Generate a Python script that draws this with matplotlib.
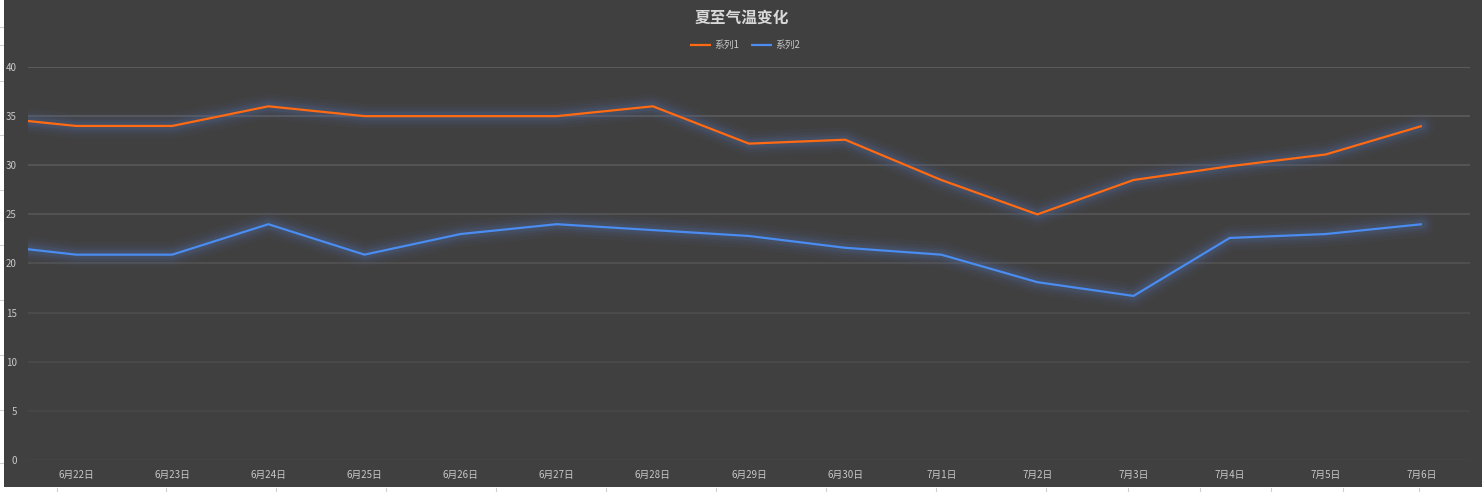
import numpy as np
import matplotlib.pyplot as plt
from matplotlib.patches import Rectangle

plt.rcParams['font.family'] = ['Noto Sans CJK SC', 'DejaVu Sans']

# data (first day is only partly visible at the left edge)
dates = ['6月21日', '6月22日', '6月23日', '6月24日', '6月25日', '6月26日', '6月27日',
         '6月28日', '6月29日', '6月30日', '7月1日', '7月2日', '7月3日',
         '7月4日', '7月5日', '7月6日']
series1 = [35, 34, 34, 36, 35, 35, 35, 36, 32.2, 32.6, 28.5, 25, 28.5, 29.9, 31.1, 34]
series2 = [22, 20.9, 20.9, 24, 20.9, 23, 24, 23.4, 22.8, 21.6, 20.9, 18.1, 16.7, 22.6, 23, 24]
yticks = [0, 5, 10, 15, 20, 25, 30, 35, 40]

bg = '#404040'
fig = plt.figure(figsize=(14.82, 4.92), dpi=100, facecolor=bg)
# white spreadsheet strips at left and bottom
fig.patches.append(Rectangle((0, 0), 4/1482, 1, transform=fig.transFigure,
                             facecolor='white', edgecolor='none'))
fig.patches.append(Rectangle((0, 0), 1, 5/492, transform=fig.transFigure,
                             facecolor='white', edgecolor='none'))
# faint spreadsheet cell borders in the white strips
for yy in [27, 45, 81, 135, 190, 245, 300, 355, 410, 463]:
    fig.lines.append(plt.Line2D([0, 3/1482], [1 - yy/492] * 2, transform=fig.transFigure,
                                color='#cfcfcf', lw=0.8))
for xx in [57, 166, 276, 386, 496, 606, 716, 826, 936, 1046, 1128, 1200, 1271, 1343, 1419]:
    fig.lines.append(plt.Line2D([xx/1482] * 2, [0, 4/492], transform=fig.transFigure,
                                color='#cfcfcf', lw=0.8))

ax = fig.add_axes([28/1482, 1 - 460/492, 1442/1482, 393/492])
ax.set_facecolor('none')

x = np.arange(len(dates)) - 1

# gridlines fade towards the bottom
for v in yticks:
    t = v / 40
    c = 0x44 + int((0x5e - 0x44) * t)
    ax.axhline(v, color='#%02x%02x%02x' % (c, c, c), lw=1.3, zorder=1)

# soft glow under the lines
for lw, a in [(18, 0.07), (13, 0.10), (9, 0.15), (6, 0.22)]:
    ax.plot(x, series1, color='#4f6594', lw=lw, alpha=a, solid_capstyle='round',
            solid_joinstyle='round', zorder=2)
    ax.plot(x, series2, color='#4f6594', lw=lw, alpha=a, solid_capstyle='round',
            solid_joinstyle='round', zorder=2)

ax.plot(x, series1, color='#ff6a13', lw=1.6, label='系列1', zorder=3,
        solid_capstyle='butt')
ax.plot(x, series2, color='#4a8cf0', lw=1.6, label='系列2', zorder=3,
        solid_capstyle='butt')

ax.set_yticks(yticks)
ax.set_xticks(x)
ax.set_xticklabels(dates)
ax.set_xlim(-0.5, 14.5)
ax.set_ylim(0, 40)
ax.tick_params(axis='both', length=0, colors='#c8c8c8', labelsize=7)
ax.tick_params(axis='x', pad=7)
ax.tick_params(axis='y', pad=8)
for s in ax.spines.values():
    s.set_visible(False)

fig.text(742/1482, 1 - 18/492, '夏至气温变化', ha='center', va='center',
         fontsize=11.3, fontweight='bold', color='#d9d9d9')
leg = fig.legend(loc='center', bbox_to_anchor=(745/1482, 1 - 45/492), ncol=2,
                 frameon=False, fontsize=7, labelcolor='#c8c8c8',
                 handlelength=2.2, columnspacing=1.2, handletextpad=0.3)

fig.savefig('out.png', dpi=100, facecolor=fig.get_facecolor())
